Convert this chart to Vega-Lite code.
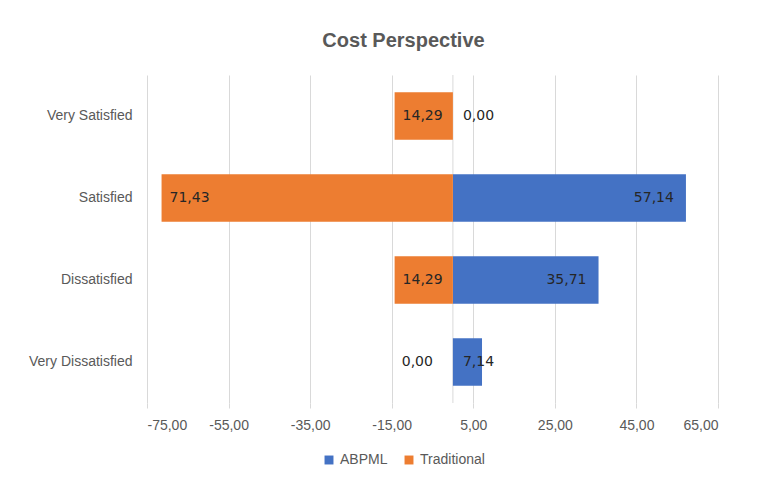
{
  "$schema": "https://vega.github.io/schema/vega-lite/v6.json",
  "width": 571,
  "height": 328,
  "autosize": {"type": "none"},
  "padding": {"left": 147, "top": 75, "right": 64, "bottom": 81},
  "background": "white",
  "title": {"text": "Cost Perspective", "anchor": "middle", "frame": "group", "dx": -29, "offset": 24, "font": "Liberation Sans", "fontSize": 20, "fontWeight": "bold", "color": "#595959"},
  "config": {
    "locale": {"number": {"decimal": ",", "thousands": ".", "grouping": [3], "currency": ["", ""]}},
    "view": {"stroke": null},
    "axis": {"labelFont": "Liberation Sans", "labelFontSize": 14, "labelColor": "#595959", "title": null}
  },
  "data": {
    "values": [
      {"level": "Very Satisfied", "series": "ABPML", "value": 0},
      {"level": "Satisfied", "series": "ABPML", "value": 57.14},
      {"level": "Dissatisfied", "series": "ABPML", "value": 35.71},
      {"level": "Very Dissatisfied", "series": "ABPML", "value": 7.14},
      {"level": "Very Satisfied", "series": "Traditional", "value": -14.29},
      {"level": "Satisfied", "series": "Traditional", "value": -71.43},
      {"level": "Dissatisfied", "series": "Traditional", "value": -14.29},
      {"level": "Very Dissatisfied", "series": "Traditional", "value": 0}
    ]
  },
  "layer": [
    {
      "data": {"values": [{}]},
      "mark": {"type": "rule", "color": "#d9d9d9", "strokeWidth": 1},
      "encoding": {"x": {"datum": 0, "type": "quantitative"}}
    },
    {
      "mark": {"type": "bar"},
      "encoding": {
        "y": {"field": "level", "type": "nominal", "sort": ["Very Satisfied", "Satisfied", "Dissatisfied", "Very Dissatisfied"], "scale": {"paddingInner": 0.42, "paddingOuter": 0.21}, "axis": {"domain": false, "ticks": false, "labelPadding": 15, "title": null}},
        "x": {"field": "value", "type": "quantitative", "scale": {"domain": [-75, 65], "nice": false, "zero": false}, "axis": {"values": [-75, -55, -35, -15, 5, 25, 45, 65], "format": ".2f", "labelExpr": "replace(datum.label, '\u2212', '-')", "grid": true, "gridColor": "#d9d9d9", "domain": false, "tickColor": "#d9d9d9", "tickSize": 5, "labelPadding": 10, "title": null}},
        "color": {"field": "series", "type": "nominal", "scale": {"domain": ["ABPML", "Traditional"], "range": ["#4472C4", "#ED7D31"]}, "legend": {"orient": "none", "legendX": 175, "legendY": 378, "direction": "horizontal", "title": null, "symbolType": "square", "symbolSize": 80, "symbolStrokeWidth": 0, "labelFont": "Liberation Sans", "labelFontSize": 14, "labelColor": "#595959", "columnPadding": 14}}
      }
    },
    {
      "transform": [{"filter": "datum.series == 'Traditional' && datum.value < 0"}],
      "mark": {"type": "text", "align": "left", "baseline": "middle", "dx": 8, "font": "DejaVu Sans", "fontSize": 14, "color": "#262626", "text": {"expr": "format(abs(datum.value), '.2f')"}},
      "encoding": {
        "y": {"field": "level", "type": "nominal", "sort": ["Very Satisfied", "Satisfied", "Dissatisfied", "Very Dissatisfied"]},
        "x": {"field": "value", "type": "quantitative"}
      }
    },
    {
      "transform": [{"filter": "datum.series == 'Traditional' && datum.value == 0"}],
      "mark": {"type": "text", "align": "right", "baseline": "middle", "dx": -20, "font": "DejaVu Sans", "fontSize": 14, "color": "#262626", "text": {"expr": "format(abs(datum.value), '.2f')"}},
      "encoding": {
        "y": {"field": "level", "type": "nominal", "sort": ["Very Satisfied", "Satisfied", "Dissatisfied", "Very Dissatisfied"]},
        "x": {"datum": 0, "type": "quantitative"}
      }
    },
    {
      "transform": [{"filter": "datum.series == 'ABPML' && datum.value >= 20"}],
      "mark": {"type": "text", "align": "right", "baseline": "middle", "dx": -12, "font": "DejaVu Sans", "fontSize": 14, "color": "#262626", "text": {"expr": "format(abs(datum.value), '.2f')"}},
      "encoding": {
        "y": {"field": "level", "type": "nominal", "sort": ["Very Satisfied", "Satisfied", "Dissatisfied", "Very Dissatisfied"]},
        "x": {"field": "value", "type": "quantitative"}
      }
    },
    {
      "transform": [{"filter": "datum.series == 'ABPML' && datum.value < 20"}],
      "mark": {"type": "text", "align": "left", "baseline": "middle", "dx": 10, "font": "DejaVu Sans", "fontSize": 14, "color": "#262626", "text": {"expr": "format(abs(datum.value), '.2f')"}},
      "encoding": {
        "y": {"field": "level", "type": "nominal", "sort": ["Very Satisfied", "Satisfied", "Dissatisfied", "Very Dissatisfied"]},
        "x": {"datum": 0, "type": "quantitative"}
      }
    }
  ]
}
